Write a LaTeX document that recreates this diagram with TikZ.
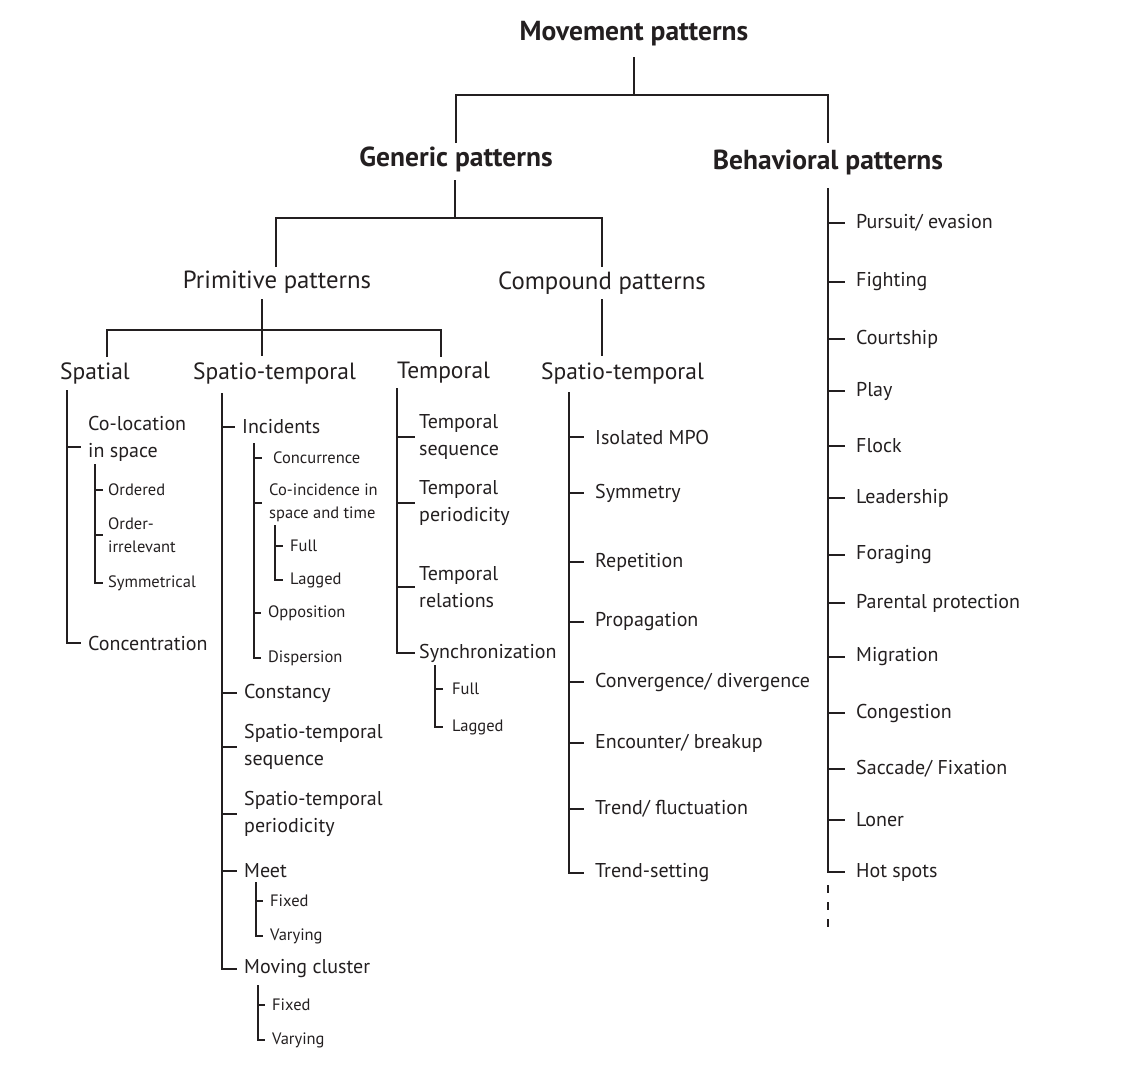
\documentclass[tikz,border=0pt]{standalone}
\usepackage{fontspec}
\setmainfont{PT Sans}
\definecolor{ink}{HTML}{231F20}
\begin{document}
\begin{tikzpicture}[x=1pt,y=-1pt,
  ln/.style={line width=1.5pt, draw=ink},
  hb/.style={font=\fontsize{27.5}{32}\selectfont\bfseries, inner sep=0pt, text=ink},
  htwo/.style={font=\fontsize{24.8}{29}\selectfont, inner sep=0pt, text=ink},
  hthree/.style={font=\fontsize{23.5}{28}\selectfont, inner sep=0pt, text=ink, anchor=west},
  item/.style={font=\fontsize{20}{26.5}\selectfont, inner sep=0pt, text=ink, anchor=west, align=left},
  small/.style={font=\fontsize{16.5}{23}\selectfont, inner sep=0pt, text=ink, anchor=west, align=left}]
\useasboundingbox (0,0) rectangle (1121,1076);

% ---------- headers ----------
\node[hb] (mp) at (634,34) {Movement patterns};
\node[hb] (gp) at (456,159) {Generic patterns};
\node[hb] (bp) at (828,162) {Behavioral patterns};
\node[htwo] (pp) at (277,282) {Primitive patterns};
\node[htwo] (cp) at (602,283) {Compound patterns};
\node[hthree] (sp)  at (60,373)  {Spatial};
\node[hthree] (pst) at (193,373) {Spatio-temporal};
\node[hthree] (tm)  at (397,373) {Temporal};
\node[hthree] (cst) at (541,373) {Spatio-temporal};

\coordinate (j0) at (634,95);
\coordinate (j0a) at (634,57);
\coordinate (gpt) at (456,143);
\coordinate (bpt) at (828,143);
\draw[ln] (j0a) -- (j0);
\draw[ln] (gpt) |- (j0) -| (bpt);

\coordinate (j1a) at (455,180);
\coordinate (j1) at (455,218);
\coordinate (ppt) at (276,267);
\coordinate (cpt) at (602,267);
\draw[ln] (j1a) -- (j1);
\draw[ln] (ppt) |- (j1) -| (cpt);

\coordinate (j2a) at (262,299);
\coordinate (j2) at (262,330);
\coordinate (pstt) at (262,356);
\coordinate (spt) at (107,357);
\coordinate (tmt) at (441,357);
\draw[ln] (j2a) -- (pstt);
\draw[ln] (spt) |- (j2) -| (tmt);

\coordinate (cpb) at (602,299);
\coordinate (cstt) at (602,356);
\draw[ln] (cpb) -- (cstt);

% ---------- Spatial ----------
\coordinate (spV) at (67,390);
\node[item] (coloc) at (88,439) {Co-location\\in space};
\node[item] (conc) at (88,643) {Concentration};
\draw[ln] (spV) |- ([xshift=-7pt,yshift=-8pt]coloc.west);
\draw[ln] (spV) |- ([xshift=-7pt]conc.west);

\coordinate (colV) at (95,464);
\node[small] (ord) at (108,490) {Ordered};
\node[small] (oirr) at (108,535) {Order-\\irrelevant};
\node[small] (symm) at (108,583) {Symmetrical};
\foreach \n in {ord,oirr,symm} \draw[ln] (colV) |- ([xshift=-5pt]\n.west);

% ---------- Primitive spatio-temporal ----------
\coordinate (pstV) at (222,393);
\node[item] (inc) at (242,427) {Incidents};
\node[item] (cons) at (244,693) {Constancy};
\node[item] (stseq) at (244,747) {Spatio-temporal\\sequence};
\node[item] (stper) at (244,814) {Spatio-temporal\\periodicity};
\node[item] (meet) at (244,871) {Meet};
\node[item] (mc) at (244,969) {Moving cluster};
\foreach \n in {inc,cons,stseq,stper,meet,mc} \draw[ln] (pstV) |- ([xshift=-7pt]\n.west);

\coordinate (incV) at (254,443);
\node[small] (concu) at (273,458) {Concurrence};
\node[small] (coinc) at (269,503) {Co-incidence in\\space and time};
\node[small] (oppo) at (268,613) {Opposition};
\node[small] (disp) at (268,658) {Dispersion};
\draw[ln] (incV) |- ([xshift=-11pt]concu.west);
\foreach \n in {coinc,oppo,disp} \draw[ln] (incV) |- ([xshift=-7pt]\n.west);

\coordinate (coV) at (275,525);
\node[small] (cofull) at (290,546) {Full};
\node[small] (colag) at (290,580) {Lagged};
\foreach \n in {cofull,colag} \draw[ln] (coV) |- ([xshift=-7pt]\n.west);

\coordinate (meetV) at (256,882);
\node[small] (mfix) at (270,901) {Fixed};
\node[small] (mvar) at (270,936) {Varying};
\foreach \n in {mfix,mvar} \draw[ln] (meetV) |- ([xshift=-7pt]\n.west);

\coordinate (mcV) at (258,985);
\node[small] (cfix) at (272,1005) {Fixed};
\node[small] (cvar) at (272,1040) {Varying};
\foreach \n in {cfix,cvar} \draw[ln] (mcV) |- ([xshift=-7pt]\n.west);

% ---------- Temporal ----------
\coordinate (tmV) at (397,388);
\node[item] (tseq) at (419,437) {Temporal\\sequence};
\node[item] (tper) at (419,503) {Temporal\\periodicity};
\node[item] (trel) at (419,587) {Temporal\\relations};
\node[item] (sync) at (419,653) {Synchronization};
\foreach \n in {tseq,tper,trel,sync} \draw[ln] (tmV) |- ([xshift=-4pt]\n.west);

\coordinate (syV) at (435,665);
\node[small] (sfull) at (452,689) {Full};
\node[small] (slag) at (452,727) {Lagged};
\foreach \n in {sfull,slag} \draw[ln] (syV) |- ([xshift=-9pt]\n.west);

% ---------- Compound spatio-temporal ----------
\coordinate (cV) at (569,392);
\node[item] (iso) at (595,437) {Isolated MPO};
\node[item] (sym) at (595,493) {Symmetry};
\node[item] (rep) at (595,562) {Repetition};
\node[item] (prop) at (595,622) {Propagation};
\node[item] (conv) at (595,682) {Convergence/ divergence};
\node[item] (enc) at (595,743) {Encounter/ breakup};
\node[item] (trend) at (595,809) {Trend/ fluctuation};
\node[item] (tset) at (595,873) {Trend-setting};
\foreach \n in {iso,sym,rep,prop,conv,enc,trend,tset} \draw[ln] (cV) |- ([xshift=-11pt]\n.west);

% ---------- Behavioral ----------
\coordinate (bV) at (828,188);
\node[item] (b1) at (856,223) {Pursuit/ evasion};
\node[item] (b2) at (856,282) {Fighting};
\node[item] (b3) at (856,339) {Courtship};
\node[item] (b4) at (856,391) {Play};
\node[item] (b5) at (856,446) {Flock};
\node[item] (b6) at (856,498) {Leadership};
\node[item] (b7) at (856,555) {Foraging};
\node[item] (b8) at (856,603) {Parental protection};
\node[item] (b9) at (856,657) {Migration};
\node[item] (b10) at (856,713) {Congestion};
\node[item] (b11) at (856,769) {Saccade/ Fixation};
\node[item] (b12) at (856,820) {Loner};
\node[item] (b13) at (856,872) {Hot spots};
\foreach \n in {b1,b2,b3,b4,b5,b6,b7,b8,b9,b10,b11,b12,b13} \draw[ln] (bV) |- ([xshift=-11pt]\n.west);
\coordinate (bd1) at (828,885);
\coordinate (bd2) at (828,932);
\draw[ln, dash pattern=on 8pt off 9pt] (bd1) -- (bd2);
\end{tikzpicture}
\end{document}
